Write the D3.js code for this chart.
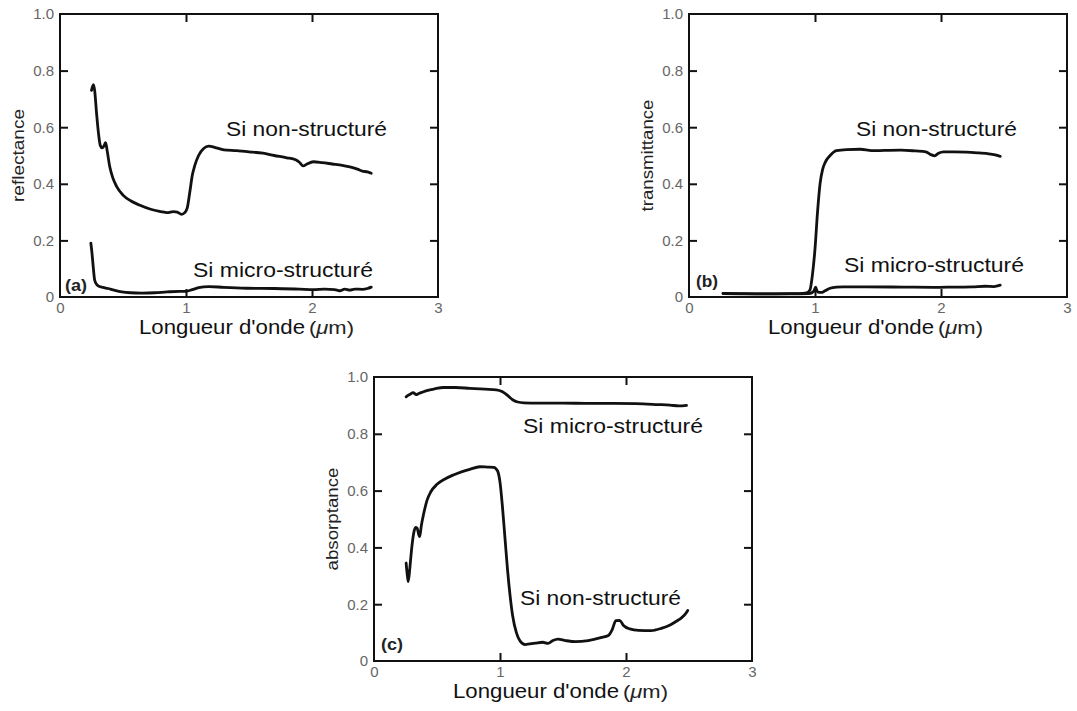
<!DOCTYPE html>
<html>
<head>
<meta charset="utf-8">
<script src="https://cdn.jsdelivr.net/npm/d3@7"></script>
<style>
  html, body { margin: 0; padding: 0; background: #fff; }
  svg { display: block; font-family: "Liberation Sans", Arial, Helvetica, sans-serif; }
</style>
</head>
<body>
<svg id="chart" width="1077" height="711"></svg>
<script>
// ---- data: wavelength (µm) vs. optical fraction ----
const wavelengthTicks = [0, 1, 2, 3];
const fractionTicks = [0, 0.2, 0.4, 0.6, 0.8, 1.0];
const innerFractionTicks = [0.2, 0.4, 0.6, 0.8];
const innerWavelengthTicks = [1, 2];

const reflectanceNonStructured = [
  [0.25,0.73],[0.265,0.75],[0.275,0.73],[0.29,0.65],[0.305,0.58],[0.32,0.535],[0.335,0.527],
  [0.35,0.535],[0.362,0.545],[0.375,0.515],[0.395,0.46],[0.42,0.42],[0.45,0.39],[0.50,0.36],
  [0.56,0.34],[0.63,0.325],[0.72,0.31],[0.80,0.302],[0.85,0.298],[0.90,0.302],[0.93,0.300],
  [0.965,0.292],[0.99,0.298],[1.01,0.315],[1.03,0.37],[1.05,0.43],[1.07,0.465],[1.10,0.50],
  [1.14,0.525],[1.18,0.533],[1.24,0.527],[1.30,0.52],[1.40,0.517],[1.50,0.513],[1.61,0.508],
  [1.70,0.50],[1.80,0.492],[1.87,0.485],[1.90,0.476],[1.93,0.463],[1.96,0.47],[2.01,0.478],
  [2.08,0.475],[2.16,0.47],[2.24,0.465],[2.30,0.46],[2.36,0.452],[2.40,0.445],[2.44,0.442],[2.47,0.437]
];
const reflectanceMicroStructured = [
  [0.245,0.19],[0.255,0.15],[0.265,0.10],[0.275,0.06],[0.29,0.045],[0.31,0.038],[0.34,0.034],
  [0.38,0.03],[0.43,0.024],[0.49,0.018],[0.56,0.015],[0.65,0.014],[0.75,0.015],[0.85,0.018],
  [0.95,0.02],[1.00,0.02],[1.05,0.026],[1.10,0.033],[1.18,0.037],[1.30,0.034],[1.48,0.031],
  [1.70,0.03],[1.90,0.028],[2.01,0.026],[2.10,0.028],[2.18,0.026],[2.22,0.022],[2.26,0.028],
  [2.30,0.024],[2.34,0.028],[2.40,0.027],[2.44,0.03],[2.47,0.035]
];
const transmittanceNonStructured = [
  [0.27,0.013],[0.40,0.012],[0.60,0.011],[0.80,0.012],[0.90,0.013],[0.94,0.016],[0.96,0.025],
  [0.98,0.08],[1.00,0.17],[1.02,0.30],[1.04,0.40],[1.06,0.45],[1.08,0.475],[1.12,0.50],
  [1.17,0.517],[1.25,0.521],[1.36,0.522],[1.45,0.517],[1.55,0.518],[1.68,0.519],[1.80,0.516],
  [1.88,0.513],[1.92,0.503],[1.95,0.499],[1.98,0.508],[2.02,0.513],[2.10,0.513],[2.20,0.512],
  [2.30,0.509],[2.38,0.506],[2.43,0.502],[2.47,0.497]
];
const transmittanceMicroStructured = [
  [0.27,0.012],[0.50,0.011],[0.80,0.011],[0.95,0.012],[0.99,0.02],[1.005,0.035],[1.02,0.018],
  [1.05,0.016],[1.08,0.022],[1.12,0.031],[1.17,0.035],[1.22,0.036],[1.40,0.036],[1.70,0.035],
  [1.94,0.034],[2.10,0.035],[2.25,0.036],[2.35,0.038],[2.42,0.037],[2.47,0.042]
];
const absorptanceMicroStructured = [
  [0.255,0.93],[0.27,0.935],[0.29,0.94],[0.31,0.945],[0.335,0.938],[0.355,0.942],[0.38,0.946],
  [0.42,0.952],[0.48,0.958],[0.55,0.963],[0.65,0.963],[0.76,0.960],[0.88,0.957],[0.97,0.955],
  [1.02,0.948],[1.06,0.935],[1.10,0.92],[1.14,0.912],[1.19,0.909],[1.30,0.908],[1.50,0.908],
  [1.70,0.907],[1.90,0.907],[2.08,0.906],[2.25,0.903],[2.35,0.901],[2.42,0.898],[2.48,0.90]
];
const absorptanceNonStructured = [
  [0.255,0.345],[0.265,0.30],[0.272,0.28],[0.285,0.33],[0.30,0.40],[0.315,0.45],[0.33,0.47],
  [0.342,0.468],[0.355,0.445],[0.363,0.438],[0.375,0.475],[0.395,0.52],[0.42,0.565],[0.45,0.595],
  [0.50,0.622],[0.56,0.64],[0.63,0.655],[0.70,0.667],[0.76,0.675],[0.84,0.684],[0.90,0.683],
  [0.95,0.682],[0.98,0.67],[1.00,0.63],[1.02,0.54],[1.04,0.43],[1.06,0.32],[1.08,0.23],
  [1.10,0.16],[1.13,0.10],[1.16,0.07],[1.20,0.058],[1.28,0.063],[1.34,0.066],[1.38,0.062],
  [1.42,0.072],[1.46,0.077],[1.52,0.072],[1.60,0.068],[1.70,0.072],[1.80,0.082],[1.86,0.09],
  [1.89,0.11],[1.92,0.142],[1.95,0.143],[1.98,0.125],[2.03,0.113],[2.10,0.108],[2.20,0.107],
  [2.28,0.115],[2.35,0.127],[2.40,0.14],[2.44,0.152],[2.47,0.165],[2.49,0.178]
];

const panelLetters = ["(a)", "(b)", "(c)"];
const yTitles = ["reflectance", "transmittance", "absorptance"];
const xTitle = "Longueur d'onde";
const seriesNames = ["Si non-structuré", "Si micro-structuré"];

// ---- layout of the three panels ----
const panels = [
  { left: 60,  top: 14,  width: 378, height: 283, letter: panelLetters[0], yTitle: yTitles[0], yTitleLen: 93,
    series: [reflectanceNonStructured, reflectanceMicroStructured],
    notes: [{ name: seriesNames[0], x: 226, y: 136 }, { name: seriesNames[1], x: 193, y: 277 }],
    letterPos: [5, -6] },
  { left: 689, top: 14,  width: 378, height: 283, letter: panelLetters[1], yTitle: yTitles[1], yTitleLen: 112,
    series: [transmittanceNonStructured, transmittanceMicroStructured],
    notes: [{ name: seriesNames[0], x: 856, y: 136 }, { name: seriesNames[1], x: 844, y: 272 }],
    letterPos: [7, -10] },
  { left: 374, top: 377, width: 378, height: 284, letter: panelLetters[2], yTitle: yTitles[2], yTitleLen: 103,
    series: [absorptanceMicroStructured, absorptanceNonStructured],
    notes: [{ name: seriesNames[1], x: 523, y: 433 }, { name: seriesNames[0], x: 520, y: 605 }],
    letterPos: [7, -11] }
];

const svg = d3.select("#chart");
const fmt = v => v === 0 ? "0" : d3.format(".1f")(v);

panels.forEach(p => {
  const x = d3.scaleLinear().domain([0, 3]).range([0, p.width]);
  const y = d3.scaleLinear().domain([0, 1]).range([p.height, 0]);
  const g = svg.append("g").attr("transform", `translate(${p.left},${p.top})`);

  // inward tick marks on all four sides
  const tickLen = 8;
  const tickGroups = [
    [d3.axisLeft(y).tickValues(innerFractionTicks).tickSize(-tickLen), 0, 0],
    [d3.axisRight(y).tickValues(innerFractionTicks).tickSize(-tickLen), p.width, 0],
    [d3.axisTop(x).tickValues(innerWavelengthTicks).tickSize(-tickLen), 0, 0],
    [d3.axisBottom(x).tickValues(innerWavelengthTicks).tickSize(-tickLen), 0, p.height]
  ];
  tickGroups.forEach(([ax, tx, ty]) => {
    const tg = g.append("g").attr("transform", `translate(${tx},${ty})`)
      .call(ax.tickFormat(""));
    tg.select(".domain").remove();
    tg.selectAll("line").attr("stroke", "#111").attr("stroke-width", 2);
  });

  // tick labels
  const yl = g.append("g").call(d3.axisLeft(y).tickValues(fractionTicks).tickSize(0).tickPadding(6).tickFormat(fmt));
  yl.select(".domain").remove();
  yl.selectAll("text").attr("font-size", 15).attr("fill", "#666").attr("font-family", "Liberation Sans, Arial, sans-serif");

  const xl = g.append("g").attr("transform", `translate(0,${p.height})`)
    .call(d3.axisBottom(x).tickValues(wavelengthTicks).tickSize(0).tickPadding(5).tickFormat(d3.format("d")));
  xl.select(".domain").remove();
  xl.selectAll("text").attr("font-size", 15).attr("fill", "#666").attr("font-family", "Liberation Sans, Arial, sans-serif");

  // curves
  const line = d3.line().x(d => x(d[0])).y(d => y(d[1])).curve(d3.curveMonotoneX);
  p.series.forEach(s => {
    g.append("path").datum(s).attr("d", line)
      .attr("fill", "none").attr("stroke", "#111").attr("stroke-width", 2.8)
      .attr("stroke-linejoin", "round").attr("stroke-linecap", "round");
  });

  // frame
  g.append("rect").attr("width", p.width).attr("height", p.height)
    .attr("fill", "none").attr("stroke", "#111").attr("stroke-width", 2);

  // panel letter
  g.append("text").attr("x", p.letterPos[0]).attr("y", p.height + p.letterPos[1])
    .attr("font-size", 16).attr("font-weight", "bold").attr("fill", "#222")
    .attr("textLength", 22).attr("lengthAdjust", "spacingAndGlyphs")
    .text(p.letter);

  // series annotations
  p.notes.forEach(n => {
    svg.append("text").attr("x", n.x).attr("y", n.y)
      .attr("font-size", 21).attr("fill", "#111")
      .attr("textLength", n.name === seriesNames[0] ? 161 : 180)
      .attr("lengthAdjust", "spacingAndGlyphs")
      .text(n.name);
  });

  // x title with unit
  g.append("text").attr("x", 79).attr("y", p.height + 37)
    .attr("font-size", 21).attr("fill", "#111")
    .attr("textLength", 166).attr("lengthAdjust", "spacingAndGlyphs")
    .text(xTitle);
  const unit = g.append("text").attr("x", 249).attr("y", p.height + 37)
    .attr("font-size", 18).attr("fill", "#222")
    .attr("textLength", 45).attr("lengthAdjust", "spacingAndGlyphs");
  unit.append("tspan").text("(");
  unit.append("tspan").attr("font-style", "italic").text("\u03bc");
  unit.append("tspan").text("m)");

  // y title
  g.append("text")
    .attr("transform", `translate(-36,${p.height / 2}) rotate(-90)`)
    .attr("text-anchor", "middle")
    .attr("font-size", 16.5).attr("fill", "#222")
    .attr("textLength", p.yTitleLen).attr("lengthAdjust", "spacingAndGlyphs")
    .text(p.yTitle);
});
</script>
</body>
</html>
